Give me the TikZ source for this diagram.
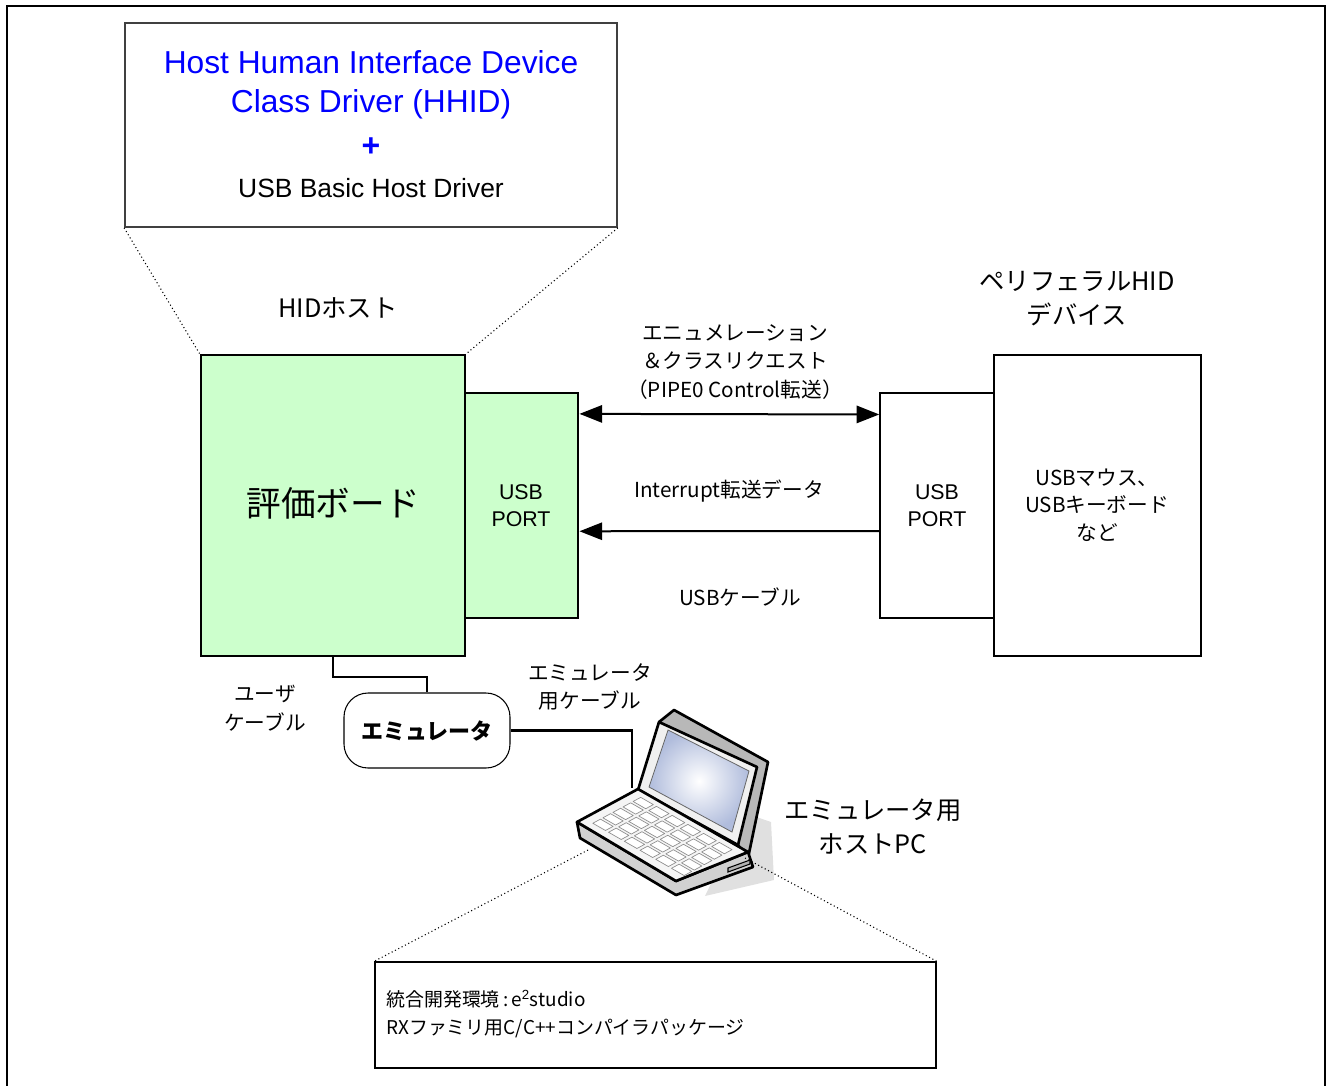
\documentclass[tikz,border=0pt]{standalone}
\usepackage{fontspec}
\setmainfont{Liberation Sans}
\newfontfamily\cjk{Noto Sans CJK JP}
\usetikzlibrary{arrows.meta,calc,fit}
\definecolor{boardgreen}{HTML}{CCFFCC}
\definecolor{hhidblue}{RGB}{0,0,255}
\definecolor{screenblue}{RGB}{176,188,220}

\begin{document}
\begin{tikzpicture}[x=0.75pt,y=-0.75pt,
  outerframe/.style={draw, line width=1.5pt},
  greenbox/.style={draw, fill=boardgreen, line width=2.2pt, inner sep=0pt},
  plainbox/.style={draw, line width=1.1pt, inner sep=0pt},
  drvbox/.style={draw=black!75, line width=1.3pt, inner sep=0pt},
  jp/.style={font=\cjk\fontsize{15.5}{21.4}\selectfont, align=center, inner sep=0pt},
  jpbig/.style={font=\cjk\fontsize{19}{25.5}\selectfont, align=center, inner sep=0pt},
  port/.style={font=\fontsize{16}{20.3}\selectfont, align=center, inner sep=0pt},
  link/.style={line width=1.5pt, >={Triangle[length=17pt,width=13pt]}},
  cable/.style={line width=2pt},
  zoomline/.style={dotted, line width=0.8pt},
  laptopline/.style={draw, line width=2pt, line join=round},
  keycap/.style={fill=white, draw=black!45, line width=0.5pt, line join=round},
]
\useasboundingbox (0,0) rectangle (1326,1085);

% outer frame
\draw[outerframe] (7,6) rectangle (1325,1110);

% driver stack box
\node[drvbox, fit={(125,23) (617,227)}] (drv) {};
\node[font=\fontsize{23.8}{29.3}\selectfont, text=hhidblue, align=center, inner sep=0pt] (hhid) at (371,85)
  {Host Human Interface Device\\Class Driver (HHID)};
\node[font=\bfseries\fontsize{24}{28}\selectfont, text=hhidblue, inner sep=0pt] (plus) at (371,147) {+};
\node[font=\fontsize{19.8}{24}\selectfont, inner sep=0pt] (basic) at (371,188) {USB Basic Host Driver};

% host board
\node[greenbox, fit={(201,355) (465,656)}] (board) {};
\node[font=\cjk\fontsize{26}{30}\selectfont, inner sep=0pt] (boardlabel) at (333,503) {評価ボード};
\node[greenbox, fit={(465,393) (578,618)}] (usbL) {};
\node[port] (usbLlabel) at (521,506) {USB\\PORT};
\node[jpbig] (hidhost) at (338,308) {HIDホスト};

% peripheral device
\node[plainbox, fit={(880,393) (994,618)}] (usbR) {};
\node[port] (usbRlabel) at (937,506) {USB\\PORT};
\node[plainbox, fit={(994,355) (1201,656)}] (dev) {};
\node[font=\cjk\fontsize{15.5}{20.6}\selectfont, align=center, inner sep=0pt] (devlabel) at (1097,505)
  {USBマウス、\\USBキーボード\\など};
\node[jpbig] (periph) at (1077,299) {ペリフェラルHID\\デバイス};

% zoom lines from the driver box to the board
\draw[zoomline] (drv.south west) -- (board.north west);
\draw[zoomline] (drv.south east) -- (board.north east);

% USB transfers
\draw[link, <->] ($(usbL.north east)!0.098!(usbL.south east)$) -- ($(usbR.north west)!0.098!(usbR.south west)$);
\draw[link, <-] ($(usbL.north east)!0.613!(usbL.south east)$) -- ($(usbR.north west)!0.613!(usbR.south west)$);
\node[jp] (enum) at (735,362)
  {エニュメレーション\\＆クラスリクエスト\\（PIPE0 Control転送）};
\node[jp] (intr) at (729,491) {Interrupt転送データ};
\node[jp] (usbcab) at (740,597) {USBケーブル};

% emulator
\node[draw, line width=0.8pt, rounded corners=18pt, fit={(344,693) (510,768)}, inner sep=0pt] (emu) {};
\node[font=\cjk\bfseries\fontsize{16.5}{20}\selectfont, inner sep=0pt] (emulabel) at (427,731) {エミュレータ};
\coordinate (ubend) at (333,677);
\draw[cable] (board.south) -- (ubend) -| (emu.north);
\node[jp] (usercab) at (265,708) {ユーザ\\ケーブル};
\node[jp] (emucab) at (590,687) {エミュレータ\\用ケーブル};

% host PC (laptop)
\coordinate (pcin) at (632,788);
\draw[cable] (emu.east) -| (pcin);

\fill[black!12] (745,813) -- (771,822) -- (774,880) -- (705,896) -- cycle;
% lid
\filldraw[laptopline, fill=black!28] (659,722) -- (674,710) -- (768,762) -- (748,858) -- (738,845) -- cycle;
\filldraw[laptopline, fill=black!6] (659,722) -- (757,767) -- (738,845) -- (638,790) -- cycle;
\shade[inner color=white, outer color=screenblue, draw=black!60, line width=0.6pt]
  (668,730) -- (749,771) -- (732,832) -- (649,787) -- cycle;
% base
\filldraw[laptopline, fill=black!18] (577,822) -- (580,838) -- (676,895) -- (753,867) -- (748,852) -- (676,881) -- cycle;
\filldraw[laptopline, fill=black!4] (577,822) -- (638,789) -- (748,852) -- (676,881) -- cycle;
\draw[line width=0.8pt, fill=black!30] (728,868) -- (750,860) -- (750,864) -- (728,872) -- cycle;
% keyboard keys on the deck plane
\begin{scope}[shift={(638,789)}, x={(82.5pt,-47.25pt)}, y={(-45.75pt,-24.75pt)}]
  \foreach \r in {0,...,4}
    \foreach \c in {0,...,5}
      \filldraw[keycap] ({0.08+0.143*\c},{0.1+0.165*\r}) -- ++(0.115,0) -- ++(0,0.125) -- ++(-0.115,0) -- cycle;
\end{scope}
\coordinate (pcL) at (588,850);
\coordinate (pcR) at (745,858);
\node[jpbig] (pclabel) at (873,827) {エミュレータ用\\ホストPC};

% development environment
\node[plainbox, fit={(375,962) (936,1068)}] (ide) {};
\node[anchor=west, align=left, inner sep=0pt, font=\cjk\fontsize{14.2}{21}\selectfont] (idetext) at (386,1014)
  {統合開発環境\,:\,e{\fontspec{Liberation Sans}\textsuperscript{2}}studio\\RXファミリ用C/C++コンパイラパッケージ};
\draw[zoomline] (pcL) -- (ide.north west);
\draw[zoomline] (pcR) -- (ide.north east);
\end{tikzpicture}
\end{document}
